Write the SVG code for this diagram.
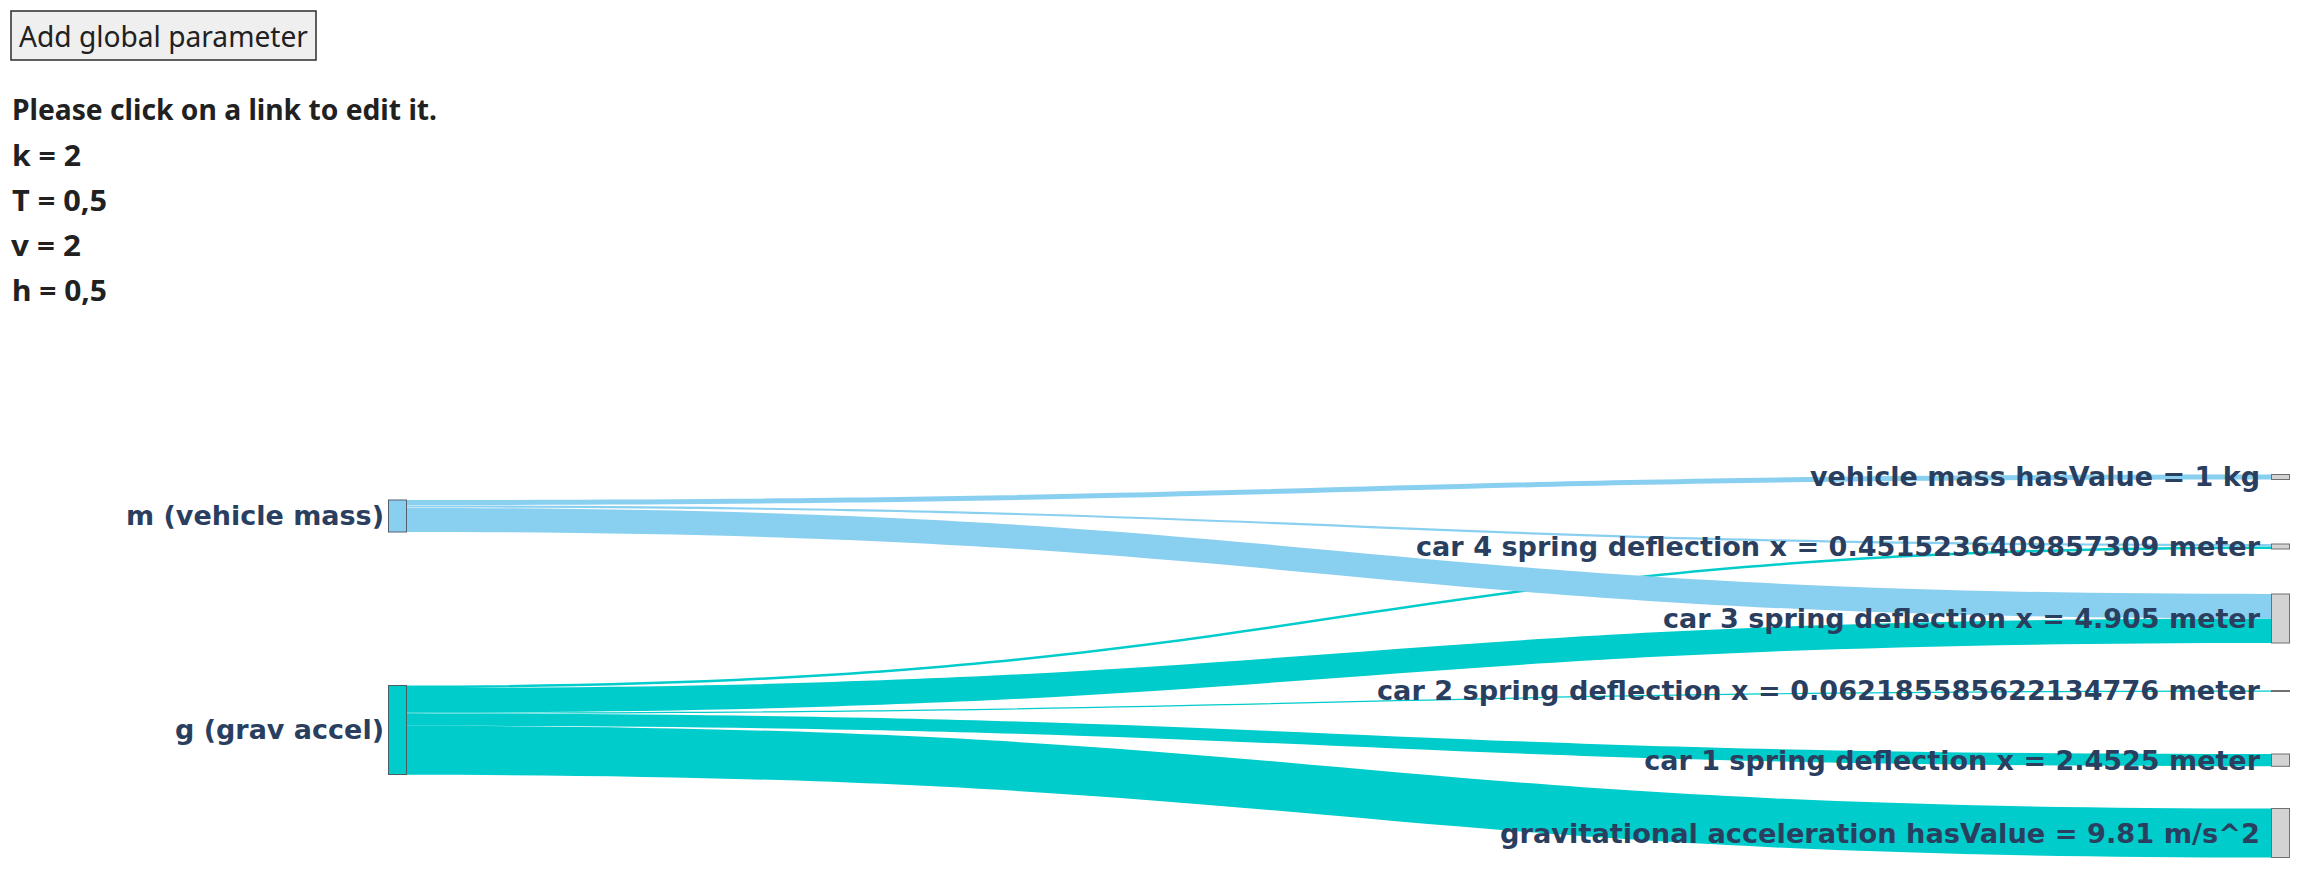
<svg xmlns="http://www.w3.org/2000/svg" width="2324" height="879" viewBox="0 0 2324 879">
<style>
.ui{font-family:"Noto Sans","Open Sans","Liberation Sans",sans-serif;fill:#212121}
.b{font-weight:bold;font-size:29px}
.lbl{font-family:"DejaVu Sans","Liberation Sans",sans-serif;font-weight:bold;font-size:27px;fill:#2a3f5f}
.lm{fill:#89cff0}
.lg{fill:#00cccc}
.nm{fill:#89cff0;stroke:#55606a;stroke-width:1}
.ng{fill:#00cccc;stroke:#4a5f64;stroke-width:1}
.nt{fill:#d3d3d3;stroke:#707070;stroke-width:1}
</style>
<rect width="2324" height="879" fill="#ffffff"/>
<g id="button">
<rect x="11" y="11" width="305" height="49" fill="#efefef" stroke="#2b2b2b" stroke-width="1.5"/>
<text class="ui" x="19" y="47" font-size="29" textLength="289" lengthAdjust="spacingAndGlyphs">Add global parameter</text>
</g>
<g id="params">
<text class="ui b" x="12" y="120" textLength="425" lengthAdjust="spacingAndGlyphs">Please click on a link to edit it.</text>
<text class="ui b" x="12" y="165.5" textLength="69" lengthAdjust="spacingAndGlyphs">k = 2</text>
<text class="ui b" x="12" y="210.5" textLength="95" lengthAdjust="spacingAndGlyphs">T = 0,5</text>
<text class="ui b" x="11" y="255.5" textLength="70" lengthAdjust="spacingAndGlyphs">v = 2</text>
<text class="ui b" x="12" y="300.5" textLength="95" lengthAdjust="spacingAndGlyphs">h = 0,5</text>
</g>
<g id="links">
<path class="lg" d="M406.5,685.5 C1338.75,685.5 1338.75,546.5 2271,546.5 L2271,549 C1338.75,549 1338.75,688 406.5,688 Z"/>
<path class="lg" d="M406.5,688 C1338.75,688 1338.75,618.5 2271,618.5 L2271,643 C1338.75,643 1338.75,712.5 406.5,712.5 Z"/>
<path class="lg" d="M406.5,712.5 C1338.75,712.5 1338.75,690.5 2271,690.5 L2271,691.7 C1338.75,691.7 1338.75,713.7 406.5,713.7 Z"/>
<path class="lg" d="M406.5,713.7 C1338.75,713.7 1338.75,754 2271,754 L2271,766.3 C1338.75,766.3 1338.75,725.8 406.5,725.8 Z"/>
<path class="lg" d="M406.5,725.8 C1338.75,725.8 1338.75,808.5 2271,808.5 L2271,857.5 C1338.75,857.5 1338.75,774.8 406.5,774.8 Z"/>
<path class="lm" d="M406.5,500 C1338.75,500 1338.75,474.5 2271,474.5 L2271,479.5 C1338.75,479.5 1338.75,505 406.5,505 Z"/>
<path class="lm" d="M406.5,505.4 C1338.75,505.4 1338.75,544 2271,544 L2271,546.2 C1338.75,546.2 1338.75,507.5 406.5,507.5 Z"/>
<path class="lm" d="M406.5,507.9 C1338.75,507.9 1338.75,594 2271,594 L2271,618.5 C1338.75,618.5 1338.75,532 406.5,532 Z"/>
</g>
<g id="node-m">
<rect class="nm" x="388.5" y="500" width="18" height="32"/>
<text class="lbl" x="384" y="525" text-anchor="end">m (vehicle mass)</text>
</g>
<g id="node-g">
<rect class="ng" x="388.5" y="685.5" width="18" height="89"/>
<text class="lbl" x="384" y="738.5" text-anchor="end">g (grav accel)</text>
</g>
<g id="node-vehicle-mass">
<rect class="nt" x="2271.5" y="474.5" width="18" height="5"/>
<text class="lbl" x="2260" y="486" text-anchor="end">vehicle mass hasValue = 1 kg</text>
</g>
<g id="node-car4">
<rect class="nt" x="2271.5" y="544" width="18" height="5"/>
<text class="lbl" x="2260" y="556" text-anchor="end" textLength="844" lengthAdjust="spacingAndGlyphs">car 4 spring deflection x = 0.4515236409857309 meter</text>
</g>
<g id="node-car3">
<rect class="nt" x="2271.5" y="594" width="18" height="49"/>
<text class="lbl" x="2260" y="627.5" text-anchor="end">car 3 spring deflection x = 4.905 meter</text>
</g>
<g id="node-car2">
<rect class="nt" x="2271.5" y="690.5" width="18" height="1"/>
<text class="lbl" x="2260" y="700" text-anchor="end" textLength="883" lengthAdjust="spacingAndGlyphs">car 2 spring deflection x = 0.062185585622134776 meter</text>
</g>
<g id="node-car1">
<rect class="nt" x="2271.5" y="754" width="18" height="12.3"/>
<text class="lbl" x="2260" y="769.5" text-anchor="end">car 1 spring deflection x = 2.4525 meter</text>
</g>
<g id="node-grav">
<rect class="nt" x="2271.5" y="808.5" width="18" height="49"/>
<text class="lbl" x="2260" y="842.5" text-anchor="end" textLength="760" lengthAdjust="spacingAndGlyphs">gravitational acceleration hasValue = 9.81 m/s^2</text>
</g>
</svg>
